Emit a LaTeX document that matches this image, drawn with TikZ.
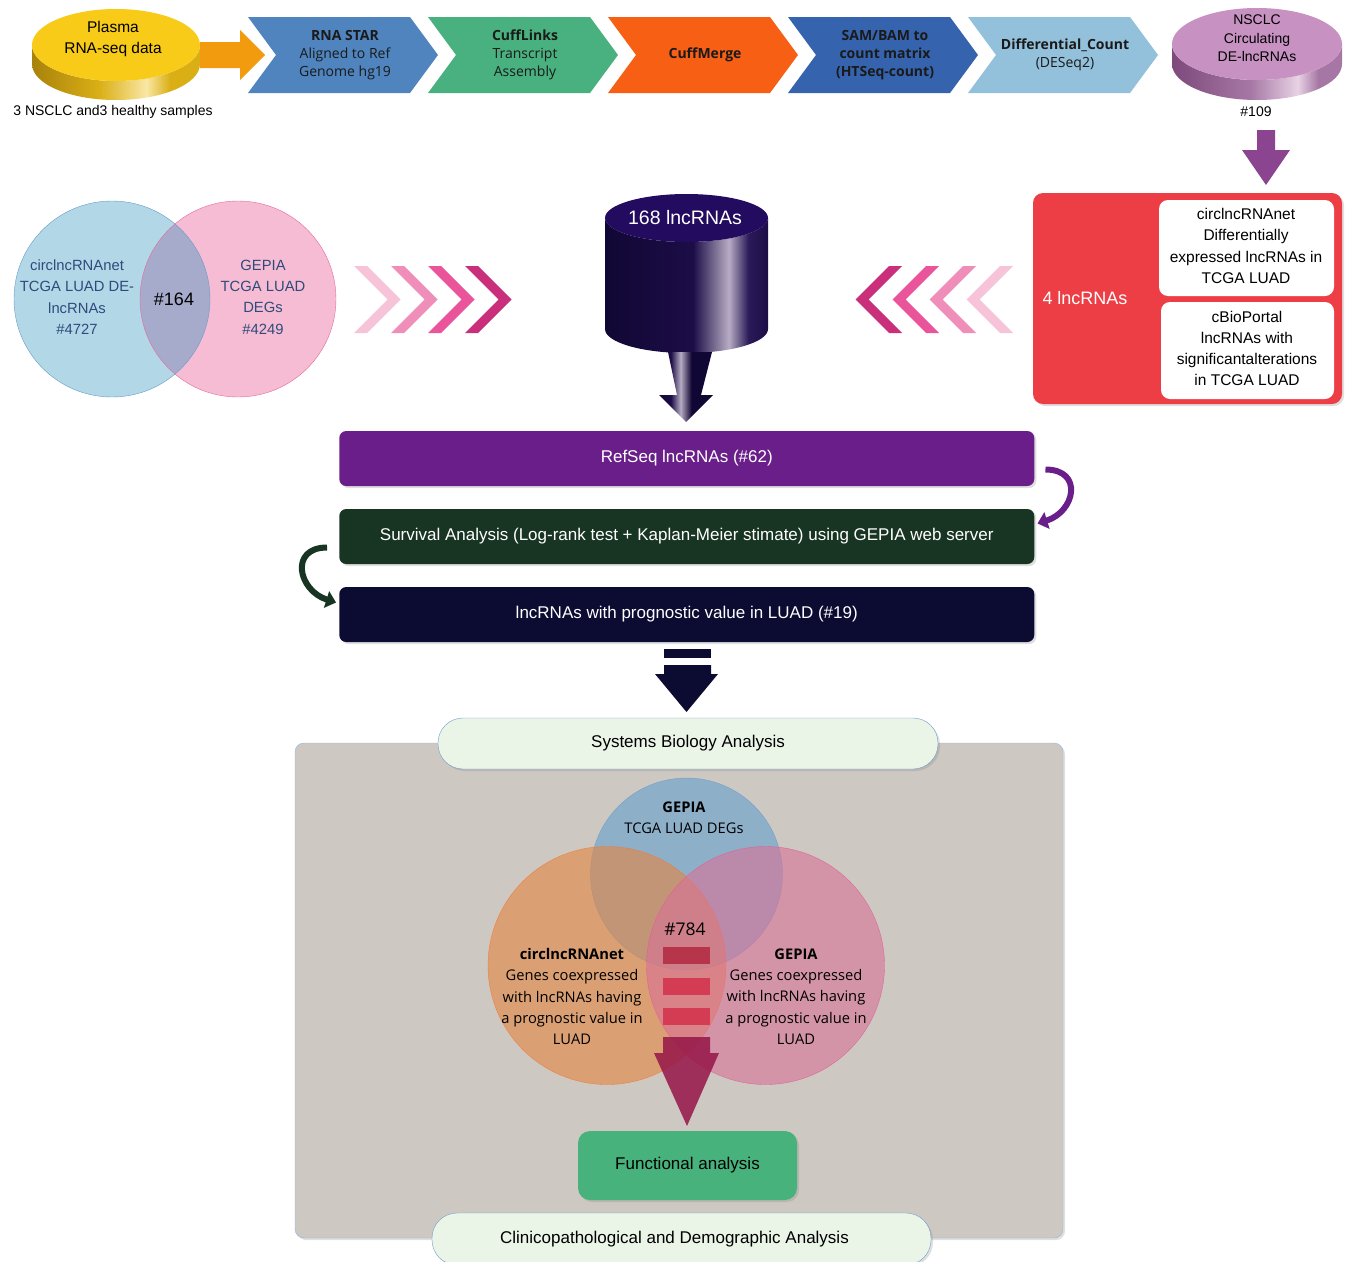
\documentclass[tikz,border=0pt]{standalone}
\usepackage{fontspec}
\setmainfont{Liberation Sans}
\newfontfamily\segoe{Open Sans}
\usetikzlibrary{arrows.meta, calc, shadows}

\newcommand\fsz[2]{\fontsize{#1}{#2}\selectfont}

% palette
\definecolor{goldtop}{HTML}{F7CB17}
\definecolor{golddark}{HTML}{A9820A}
\definecolor{goldmid}{HTML}{DAAF16}
\definecolor{goldhi}{HTML}{F9E7A4}
\definecolor{orangearrow}{HTML}{F29B0F}
\definecolor{chevblue}{HTML}{4F84BF}
\definecolor{chevgreen}{HTML}{48B17F}
\definecolor{chevorange}{HTML}{F65F14}
\definecolor{chevnavy}{HTML}{3563AD}
\definecolor{chevsky}{HTML}{93C0DA}
\definecolor{chevink}{HTML}{1A1A1A}
\definecolor{mauvetop}{HTML}{C791C2}
\definecolor{mauvedark}{HTML}{7D4A7B}
\definecolor{mauvemid}{HTML}{A677A4}
\definecolor{mauvehi}{HTML}{E8D2E5}
\definecolor{plumarrow}{HTML}{8A4490}
\definecolor{vennblue}{HTML}{B2D7E7}
\definecolor{vennpink}{HTML}{F6BCD3}
\definecolor{venncap}{HTML}{A7ABCB}
\definecolor{vennblueline}{HTML}{6A9BC9}
\definecolor{vennpinkline}{HTML}{E46A9E}
\definecolor{venntext}{HTML}{2F4B7C}
\definecolor{pinkA}{HTML}{F7C3D8}
\definecolor{pinkB}{HTML}{F08EBA}
\definecolor{pinkC}{HTML}{EA549A}
\definecolor{pinkD}{HTML}{C92F7A}
\definecolor{inktop}{HTML}{230B5F}
\definecolor{inkdark}{HTML}{110734}
\definecolor{inkmid}{HTML}{1C0D47}
\definecolor{inkhi}{HTML}{B7ACC3}
\definecolor{inkend}{HTML}{2A1A58}
\definecolor{redpanel}{HTML}{EE3E45}
\definecolor{refpurple}{HTML}{6A1E8A}
\definecolor{survgreen}{HTML}{183523}
\definecolor{prognavy}{HTML}{0C0C33}
\definecolor{panelgray}{HTML}{CDC9C2}
\definecolor{panelline}{HTML}{8DB4E2}
\definecolor{bannerfill}{HTML}{EBF5E7}
\definecolor{bannerline}{HTML}{6C9BD0}
\definecolor{funcgreen}{HTML}{48B27D}
\definecolor{setblue}{HTML}{649FCC}
\definecolor{setorange}{HTML}{E38540}
\definecolor{setpink}{HTML}{D97197}
\definecolor{setblueline}{HTML}{6F9DC8}
\definecolor{setorangeline}{HTML}{F47A36}
\definecolor{setpinkline}{HTML}{E45E96}
\definecolor{crimson}{HTML}{D2304A}
\definecolor{crimsondark}{HTML}{961548}

\pgfdeclarehorizontalshading{goldside}{100bp}{color(0bp)=(golddark); color(25bp)=(golddark); color(45bp)=(goldmid); color(59bp)=(goldhi); color(66bp)=(goldmid); color(75bp)=(goldmid); color(100bp)=(goldmid)}
\pgfdeclarehorizontalshading{mauveside}{100bp}{color(0bp)=(mauvedark); color(25bp)=(mauvedark); color(48bp)=(mauvemid); color(62bp)=(mauvehi); color(68bp)=(mauvemid); color(75bp)=(mauvemid); color(100bp)=(mauvemid)}
\pgfdeclarehorizontalshading{inkside}{100bp}{color(0bp)=(inkdark); color(25bp)=(inkdark); color(52bp)=(inkmid); color(63bp)=(inkhi); color(69bp)=(inkend); color(75bp)=(inkmid); color(100bp)=(inkmid)}
\pgfdeclarehorizontalshading{inkspike}{100bp}{color(0bp)=(inkdark); color(25bp)=(inkdark); color(36bp)=(inkmid); color(45bp)=(inkhi); color(55bp)=(inkdark); color(75bp)=(inkdark); color(100bp)=(inkdark)}

\begin{document}
\begin{tikzpicture}[x=1pt, y=-1pt,
	every node/.style={inner sep=0pt, align=center},
	chevtext/.style={font=\segoe\fsz{14}{18}, text=chevink},
	smalltext/.style={font=\fsz{14}{18.5}},
	vennlabel/.style={font=\fsz{14.8}{21.3}, text=venntext},
	setlabel/.style={font=\segoe\fsz{14.7}{21.25}, text=black},
	redcard/.style={fill=white, rounded corners=9pt, font=\fsz{15.5}{21.3}},
	softshadow/.style={drop shadow={shadow xshift=2pt, shadow yshift=-2pt, opacity=0.25}},
	bar/.style={softshadow, minimum width=695, minimum height=55, rounded corners=7pt, text=white, font=\fsz{17}{20}},
	banner/.style={softshadow, minimum width=500, minimum height=51, rounded corners=25pt, fill=bannerfill, draw=bannerline, font=\fsz{17}{20}},
	bendarrow/.style={line width=6pt, -{Triangle[width=17pt,length=10pt]}}]
	\useasboundingbox (0,0) rectangle (1346,1261);

	% ---- top row: sequencing pipeline
	\shade[shading=goldside] (32,45) -- (32,64) arc[start angle=180, end angle=0, x radius=84, y radius=36] -- (200,45) arc[start angle=0, end angle=180, x radius=84, y radius=36] -- cycle;
	\fill[goldtop] (116,45) ellipse[x radius=84, y radius=36];
	\node[font=\fsz{15.5}{21}] (plasma) at (113,38.5) {Plasma\\RNA-seq data};
	\node[smalltext] (samples) at (113,112) {3 NSCLC and3 healthy samples};

	\fill[orangearrow] (200,42) -- (240,42) -- (240,30) -- (265,55) -- (240,80) -- (240,68) -- (200,68) -- cycle;

	\foreach \x/\col/\txt [count=\i] in {
		248/chevblue/{\textbf{RNA STAR}\\Aligned to Ref\\Genome hg19},
		428/chevgreen/{\textbf{CuffLinks}\\Transcript\\Assembly},
		608/chevorange/{\textbf{CuffMerge}},
		788/chevnavy/{\textbf{SAM/BAM to}\\\textbf{count matrix}\\\textbf{(HTSeq-count)}},
		968/chevsky/{\textbf{Differential\_Count}\\(DESeq2)}}
	{
		\fill[\col] (\x,17) -- ++(162,0) -- ++(28,38) -- ++(-28,38) -- ++(-162,0) -- ++(28,-38) -- cycle;
		\node[chevtext] (chev\i) at (\x+97,55) {\txt};
	}

	\shade[shading=mauveside] (1172,44) -- (1172,64) arc[start angle=180, end angle=0, x radius=85, y radius=36] -- (1342,44) arc[start angle=0, end angle=180, x radius=85, y radius=36] -- cycle;
	\fill[mauvetop] (1257,44) ellipse[x radius=85, y radius=36];
	\node[font=\fsz{14}{18.5}] (nsclc) at (1257,38.5) {NSCLC\\Circulating\\DE-lncRNAs};
	\node[smalltext] (count109) at (1256,112) {\#109};

	\fill[plumarrow] (1257,130) -- (1275,130) -- (1275,150) -- (1290,150) -- (1266,185) -- (1242,150) -- (1257,150) -- cycle;

	% ---- middle row: venn, filtered drum, red panel
	\fill[vennblue] (112,299) circle[radius=98];
	\fill[vennpink] (238,299) circle[radius=98];
	\begin{scope}
		\clip (112,299) circle[radius=98];
		\fill[venncap] (238,299) circle[radius=98];
	\end{scope}
	\draw[vennblueline] (112,299) circle[radius=98];
	\draw[vennpinkline] (238,299) circle[radius=98];
	\node[vennlabel] (lncset) at (77,297) {circlncRNAnet\\TCGA LUAD DE-\\lncRNAs\\\#4727};
	\node[vennlabel] (degset) at (263,297) {GEPIA\\TCGA LUAD\\DEGs\\\#4249};
	\node[font=\fsz{18}{20}] (common164) at (174,299) {\#164};

	\foreach \x/\col in {354/pinkA, 391/pinkB, 428/pinkC, 465/pinkD}
		\fill[\col] (\x,266) -- ++(13,0) -- ++(33.5,33.5) -- ++(-33.5,33.5) -- ++(-13,0) -- ++(33.5,-33.5) -- cycle;
	\foreach \x/\col in {1013/pinkA, 976/pinkB, 939/pinkC, 902/pinkD}
		\fill[\col] (\x,266) -- ++(-13,0) -- ++(-33.5,33.5) -- ++(33.5,33.5) -- ++(13,0) -- ++(-33.5,-33.5) -- cycle;

	\shade[shading=inkside] (605,218) -- (605,329) arc[start angle=180, end angle=0, x radius=81.5, y radius=24] -- (768,218) arc[start angle=0, end angle=180, x radius=81.5, y radius=24] -- cycle;
	\fill[inktop] (686.5,218) ellipse[x radius=81.5, y radius=24];
	\node[font=\fsz{19.5}{22}, text=white] (lnc168) at (685,218) {168 lncRNAs};
	\shade[shading=inkspike] (668,352) -- (712,352) -- (701,395) -- (713,395) -- (686,422) -- (659,395) -- (677,395) -- cycle;

	\node[softshadow, fill=redpanel, rounded corners=10pt, minimum width=309, minimum height=211] (picked) at (1187.5,298.5) {};
	\node[font=\fsz{18}{20}, text=white] (four) at (1085,298) {4 lncRNAs};
	\node[redcard, minimum width=175, minimum height=96] (circcard) at (1246.5,248) {};
	\node[font=\fsz{15.5}{21.3}] at (1246,246) {circlncRNAnet\\Differentially\\expressed lncRNAs in\\TCGA LUAD};
	\node[redcard, minimum width=173, minimum height=97] (cbiocard) at (1247.5,350.5) {};
	\node[font=\fsz{15.5}{21.3}] at (1247,348.5) {cBioPortal\\lncRNAs with\\significantalterations\\in TCGA LUAD};

	% ---- filtering bars
	\node[bar, fill=refpurple] (refseq) at (686.75,458.5) {RefSeq lncRNAs (\#62)};
	\node[bar, fill=survgreen] (surv) at (686.75,536.5) {Survival Analysis (Log-rank test + Kaplan-Meier stimate) using GEPIA web server};
	\node[bar, fill=prognavy] (prog) at (686.75,614.5) {lncRNAs with prognostic value in LUAD (\#19)};
	\draw[bendarrow, refpurple] ($(refseq.east)+(11,11)$) .. controls +(38,0) and +(38,-12) .. ($(surv.east)+(3,-13)$);
	\draw[bendarrow, survgreen] ($(surv.west)+(-12,11)$) .. controls +(-38,0) and +(-38,-12) .. ($(prog.west)+(-3,-12)$);

	\fill[prognavy] (664,649) rectangle (711,658);
	\fill[prognavy] (664,665) -- (711,665) -- (711,674) -- (718,674) -- (686.5,712) -- (655,674) -- (664,674) -- cycle;

	% ---- systems biology panel
	\draw[softshadow, fill=panelgray, draw=panelline, rounded corners=9pt] (295,743) rectangle (1063,1238);
	\node[banner] (sysbio) at (688,743.5) {Systems Biology Analysis};

	\begin{scope}[fill opacity=0.6, draw opacity=0.9]
		\draw[fill=setblue, draw=setblueline] (686.5,874) circle[radius=96];
		\draw[fill=setorange, draw=setorangeline] (607,965.5) circle[radius=119];
		\draw[fill=setpink, draw=setpinkline] (765.5,965.5) circle[radius=119];
	\end{scope}
	\begin{scope}[fill opacity=0.85]
		\fill[crimson!85!black] (663,947) rectangle (710,964);
		\fill[crimson] (663,978) rectangle (710,995);
		\fill[crimson] (663,1008) rectangle (710,1025);
		\fill[crimsondark] (663,1037) -- (710,1037) -- (710,1053) -- (719,1053) -- (687,1126) -- (654,1053) -- (663,1053) -- cycle;
	\end{scope}
	\node[setlabel] (gepiatop) at (684,818) {\textbf{GEPIA}\\TCGA LUAD DEGs};
	\node[font=\segoe\fsz{17.5}{20}] (common784) at (685,929) {\#784};
	\node[setlabel] (coexleft) at (572,996.5) {\textbf{circlncRNAnet}\\Genes coexpressed\\with lncRNAs having\\a prognostic value in\\LUAD};
	\node[setlabel] (coexright) at (796,996.5) {\textbf{GEPIA}\\Genes coexpressed\\with lncRNAs having\\a prognostic value in\\LUAD};

	\node[softshadow, fill=funcgreen, rounded corners=12pt, minimum width=219, minimum height=69, font=\fsz{17}{20}] (func) at (687.5,1165.5) {Functional analysis};
	\node[banner, minimum width=499, minimum height=52] (clinico) at (681.5,1239) {\hspace*{-14pt}Clinicopathological and Demographic Analysis};
\end{tikzpicture}
\end{document}
